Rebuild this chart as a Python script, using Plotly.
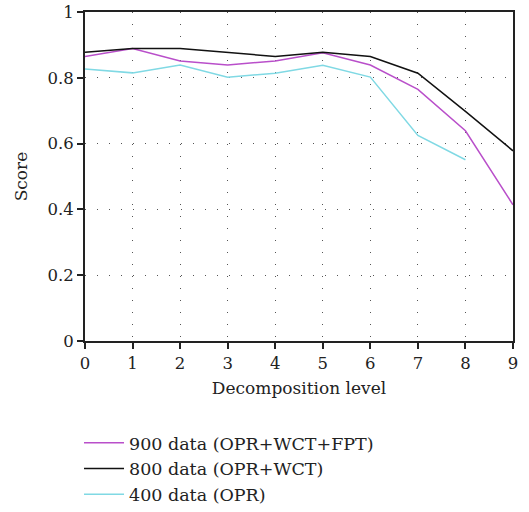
import plotly.graph_objects as go

levels = [0, 1, 2, 3, 4, 5, 6, 7, 8, 9]
s900 = [0.865, 0.889, 0.851, 0.839, 0.851, 0.876, 0.839, 0.765, 0.639, 0.414]
s800 = [0.878, 0.889, 0.889, 0.878, 0.865, 0.878, 0.865, 0.814, 0.698, 0.578]
s400 = [0.827, 0.815, 0.839, 0.802, 0.814, 0.838, 0.802, 0.625, 0.551]
names = ["900 data (OPR+WCT+FPT)", "800 data (OPR+WCT)", "400 data (OPR)"]
colors = ["#b94fca", "#111111", "#80d9e4"]

font = "DejaVu Serif"
fig = go.Figure()
for ys, n, c in zip([s900, s800, s400], names, colors):
    fig.add_trace(go.Scatter(x=levels[:len(ys)], y=ys, mode="lines", name=n,
                             line=dict(color=c, width=1.5)))

fig.update_layout(
    width=529, height=512,
    margin=dict(l=85, r=16, t=12, b=171, autoexpand=False),
    paper_bgcolor="white", plot_bgcolor="white",
    font=dict(family=font, size=16, color="#222"),
    showlegend=True,
    legend=dict(x=-0.014, y=-0.255, xanchor="left", yanchor="top",
                font=dict(family=font, size=17.5, color="#222"),
                tracegroupgap=0, itemwidth=40),
    xaxis=dict(range=[0, 9], tickvals=levels, ticks="outside", ticklen=6,
               tickwidth=1.5, tickcolor="#222",
               showline=True, linecolor="#222", linewidth=2, mirror=True,
               showgrid=True, gridcolor="#555", gridwidth=1, griddash="1px,11px",
               zeroline=False,
               title=dict(text="Decomposition level", standoff=10,
                          font=dict(family=font, size=17)),
               tickfont=dict(family=font, size=16.5)),
    yaxis=dict(range=[0, 1], tickvals=[0, 0.2, 0.4, 0.6, 0.8, 1],
               ticktext=["0", "0.2", "0.4", "0.6", "0.8", "1"],
               ticks="outside", ticklen=6, tickwidth=1.5, tickcolor="#222",
               showline=True, linecolor="#222", linewidth=2, mirror=True,
               showgrid=True, gridcolor="#555", gridwidth=1, griddash="1px,11px",
               zeroline=False,
               title=dict(text="Score", standoff=16, font=dict(family=font, size=17)),
               tickfont=dict(family=font, size=16.5)),
)
fig.write_html("out.html")
